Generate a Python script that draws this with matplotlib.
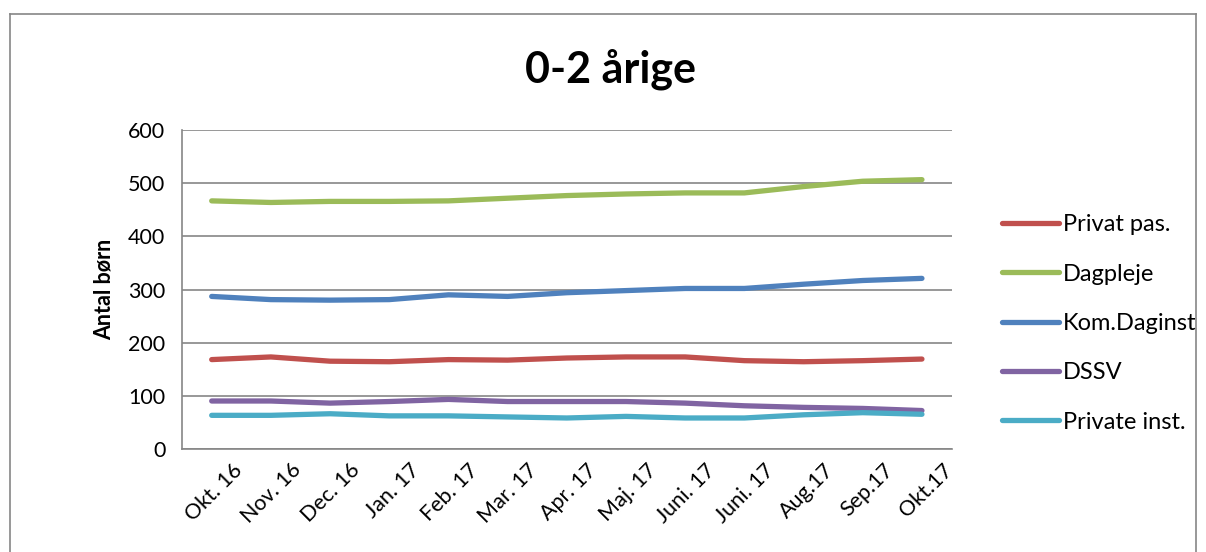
import matplotlib
matplotlib.use("Agg")
import matplotlib.pyplot as plt
import matplotlib.transforms as mtransforms
from matplotlib.lines import Line2D

plt.rcParams['font.family'] = ['Lato', 'DejaVu Sans']

# Data
months = ["Okt. 16", "Nov. 16", "Dec. 16", "Jan. 17", "Feb. 17", "Mar. 17", "Apr. 17",
          "Maj. 17", "Juni. 17", "Juni. 17", "Aug.17", "Sep.17", "Okt.17"]
privat_pas = [168, 173, 165, 164, 168, 167, 171, 173, 173, 166, 164, 166, 169]
dagpleje = [467, 464, 466, 466, 467, 472, 477, 480, 482, 482, 494, 504, 507]
kom_daginst = [287, 281, 280, 281, 290, 287, 294, 298, 302, 302, 310, 317, 321]
dssv = [90, 90, 86, 89, 93, 89, 89, 89, 86, 81, 78, 76, 72]
private_inst = [63, 63, 66, 62, 62, 60, 58, 61, 58, 58, 64, 68, 65]

series = [("Privat pas.", privat_pas, "#C0504D"),
          ("Dagpleje", dagpleje, "#9BBB59"),
          ("Kom.Daginst", kom_daginst, "#4F81BD"),
          ("DSSV", dssv, "#8064A2"),
          ("Private inst.", private_inst, "#4BACC6")]

fig = plt.figure(figsize=(12.06, 5.52), dpi=100)
ax = fig.add_axes([0.151, 0.187, 0.638, 0.577])

x = list(range(len(months)))
for name, vals, col in series:
    ax.plot(x, vals, color=col, lw=3.8, label=name, solid_capstyle='round')

ax.set_xlim(-0.5, len(months) - 0.5)
ax.set_ylim(0, 600)
ax.set_yticks(range(0, 601, 100))
ax.yaxis.grid(True, color="#868686", lw=1.2)
ax.set_axisbelow(True)
for s in ["top", "right"]:
    ax.spines[s].set_visible(False)
for s in ["left", "bottom"]:
    ax.spines[s].set_color("#868686")
    ax.spines[s].set_linewidth(1.2)
ax.tick_params(axis='y', length=0, labelsize=15.5, pad=12)
ax.tick_params(axis='x', length=0, labelsize=15.5, pad=8)
ax.set_xticks(x)
ax.set_xticklabels(months, rotation=45, ha='right', rotation_mode='anchor')
# shift rotated labels a bit to the right like the original
offset = mtransforms.ScaledTranslation(0.2, 0, fig.dpi_scale_trans)
for lab in ax.get_xticklabels():
    lab.set_transform(lab.get_transform() + offset)
ax.set_ylabel("Antal børn", fontsize=15.5, fontweight='bold', labelpad=10)

fig.text(0.506, 0.875, "0-2 årige", ha='center', va='center', fontsize=31, fontweight='bold')

leg = fig.legend(loc='center left', bbox_to_anchor=(1002 / 1206, 0.414), frameon=False,
                 fontsize=17, handlelength=2.4, handletextpad=0.17, labelspacing=1.2,
                 borderpad=0, borderaxespad=0)

# outer chart border
for coords in [([10, 10], [14, 552]), ([10, 1196], [14, 14]), ([1196, 1196], [14, 552])]:
    fig.add_artist(Line2D([c / 1206 for c in coords[0]], [1 - c / 552 for c in coords[1]],
                          color="#868686", lw=1.2))

fig.savefig("out.png", dpi=100)
